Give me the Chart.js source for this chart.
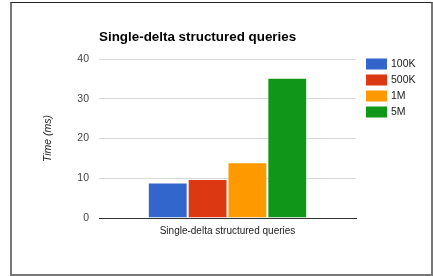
<!DOCTYPE html>
<html><head><meta charset="utf-8">
<script src="https://cdn.jsdelivr.net/npm/chart.js@4/dist/chart.umd.min.js"></script>
<style>
html,body{margin:0;padding:0;background:#fff;overflow:hidden;}
#wrap{position:absolute;left:0;top:0;width:433px;height:276px;}
#frame{position:absolute;left:10px;top:2px;width:419px;height:271px;border-top:1px solid #222;border-left:2px solid #777;border-right:2px solid #777;border-bottom:2px solid #777;pointer-events:none;}
</style></head>
<body>
<div id="wrap"><canvas id="c" width="433" height="276"></canvas></div>
<div id="frame"></div>
<script>
const chartTitle = "Single-delta structured queries";
const categories = ["Single-delta structured queries"];
const seriesNames = ["100K", "500K", "1M", "5M"];
const seriesColors = ["#3366cc", "#dc3912", "#ff9900", "#109618"];
const values100K = [8.9];
const values500K = [9.8];
const values1M = [14.0];
const values5M = [35.3];
const yTicks = [0, 10, 20, 30, 40];
const yAxisTitle = "Time (ms)";

const seriesValues = [values100K, values500K, values1M, values5M];
const FONT = "Arial, 'Liberation Sans', sans-serif";

const overlay = {
  id: 'overlay',
  afterDraw(chart) {
    const ctx = chart.ctx;
    const ca = chart.chartArea;
    ctx.save();
    ctx.fillStyle = '#000';
    ctx.font = "bold 13.4px " + FONT;
    ctx.textBaseline = 'alphabetic';
    ctx.textAlign = 'left';
    ctx.fillText(chartTitle, ca.left, 41);
    // legend
    ctx.font = "10.5px " + FONT;
    ctx.textBaseline = 'middle';
    chart.data.datasets.forEach((ds, i) => {
      const y = 64 + i * 16;
      ctx.fillStyle = ds.backgroundColor;
      ctx.fillRect(366, y - 5.5, 21, 11);
      ctx.fillStyle = '#222';
      ctx.fillText(ds.label, 391, y + 0.5);
    });
    ctx.restore();
  }
};

new Chart(document.getElementById('c'), {
  type: 'bar',
  data: {
    labels: categories,
    datasets: seriesNames.map((n, i) => ({
      label: n,
      data: seriesValues[i],
      backgroundColor: seriesColors[i],
      borderColor: 'rgba(255,255,255,0.35)',
      borderWidth: 1,
      categoryPercentage: 0.62,
      barPercentage: 1.0
    }))
  },
  options: {
    responsive: false,
    animation: false,
    layout: { padding: { left: 38, right: 77, top: 59, bottom: 0 } },
    plugins: { legend: { display: false }, title: { display: false }, tooltip: { enabled: false } },
    scales: {
      x: {
        grid: { display: false, drawTicks: false },
        border: { display: true, color: '#333', width: 1 },
        ticks: { color: '#222', font: { family: FONT, size: 10 }, padding: 7 },
        afterFit(s) { s.height = 58; }
      },
      y: {
        min: 0, max: 40,
        afterBuildTicks(s) { s.ticks = yTicks.map(v => ({ value: v })); },
        grid: { drawTicks: false, color: (c) => c.tick && c.tick.value === 0 ? '#333' : '#d8d8d8', lineWidth: 1 },
        border: { display: false },
        ticks: { color: '#444', font: { family: FONT, size: 10.5 }, padding: 10 },
        title: { display: true, text: yAxisTitle, color: '#222', font: { family: FONT, size: 10.5, style: 'italic' } },
        afterFit(s) { s.width = 61; }
      }
    }
  },
  plugins: [overlay]
});
</script>
</body></html>
